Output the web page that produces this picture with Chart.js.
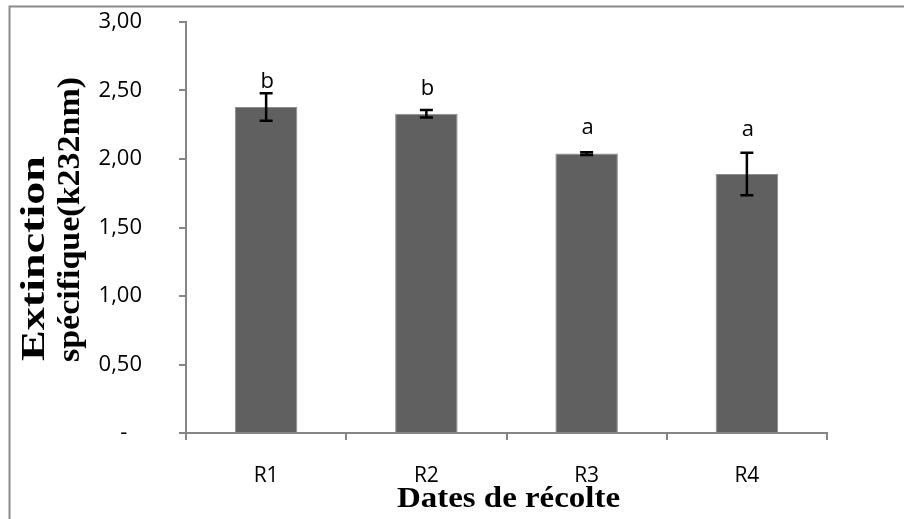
<!DOCTYPE html>
<html lang="fr">

<head>
    <meta charset="UTF-8">
    <title>Extinction spécifique</title>
    <script src="https://cdn.jsdelivr.net/npm/chart.js"></script>
    <style>
        body { margin: 0; background: #fff; }
    </style>
</head>

<body>
    <canvas id="myChart" width="904" height="519"></canvas>

    <script>
        // values
        const categories = ['R1', 'R2', 'R3', 'R4'];
        const values = [2.38, 2.33, 2.04, 1.89];
        const errors = [0.10, 0.027, 0.01, 0.155];
        const letters = ['b', 'b', 'a', 'a'];
        const letterAt = [2.52, 2.47, 2.18, 2.17];   // baseline of the letters, in axis units
        const yTickValues = [0, 0.5, 1, 1.5, 2, 2.5, 3];
        const yTickLabels = ['-\u2007\u200A', '0,50', '1,00', '1,50', '2,00', '2,50', '3,00'];
        const yTitle = ['Extinction', 'spécifique(k232nm)'];
        const xTitle = 'Dates de récolte';

        const axisGray = '#868686';

        // frame + titles
        const decor = {
            id: 'decor',
            beforeDraw(chart) {
                const ctx = chart.ctx;
                ctx.save();
                ctx.fillStyle = '#fff';
                ctx.fillRect(0, 0, chart.width, chart.height);
                ctx.strokeStyle = '#8a8a8a';
                ctx.lineWidth = 2;
                ctx.beginPath();
                ctx.moveTo(9.5, chart.height);
                ctx.lineTo(9.5, 6.5);
                ctx.lineTo(chart.width, 6.5);
                ctx.stroke();
                ctx.restore();
            },
            afterDraw(chart) {
                const ctx = chart.ctx;
                ctx.save();
                ctx.fillStyle = '#000';
                ctx.textBaseline = 'alphabetic';
                ctx.textAlign = 'left';
                // y title, two lines reading upward, stretched to the reference length
                // [baseline x, start y, length, font size]
                const lines = [[44, 361, 205, 33], [79, 362, 285, 31]];
                yTitle.forEach((t, i) => {
                    ctx.font = 'bold ' + lines[i][3] + 'px "Liberation Serif"';
                    const w = ctx.measureText(t).width;
                    ctx.save();
                    ctx.translate(lines[i][0], lines[i][1]);
                    ctx.rotate(-Math.PI / 2);
                    ctx.scale(lines[i][2] / w, 1);
                    ctx.fillText(t, 0, 0);
                    ctx.restore();
                });
                // x title
                ctx.font = 'bold 30px "Liberation Serif"';
                const w = ctx.measureText(xTitle).width;
                ctx.save();
                ctx.translate(397, 507);
                ctx.scale(223 / w, 1);
                ctx.fillText(xTitle, 0, 0);
                ctx.restore();
                ctx.restore();
            }
        };

        // error bars and significance letters
        const errorBars = {
            id: 'errorBars',
            afterDatasetsDraw(chart) {
                const ctx = chart.ctx;
                const y = chart.scales.y;
                const meta = chart.getDatasetMeta(0);
                ctx.save();
                ctx.strokeStyle = '#000';
                ctx.lineWidth = 2.5;
                meta.data.forEach((bar, i) => {
                    const x = bar.x;
                    const top = y.getPixelForValue(values[i] + errors[i]);
                    const bot = y.getPixelForValue(values[i] - errors[i]);
                    ctx.beginPath();
                    ctx.moveTo(x, top);
                    ctx.lineTo(x, bot);
                    ctx.moveTo(x - 6.5, top);
                    ctx.lineTo(x + 6.5, top);
                    ctx.moveTo(x - 6.5, bot);
                    ctx.lineTo(x + 6.5, bot);
                    ctx.stroke();
                });
                ctx.fillStyle = '#000';
                ctx.font = '22px "Open Sans"';
                ctx.textAlign = 'center';
                ctx.textBaseline = 'alphabetic';
                meta.data.forEach((bar, i) => {
                    ctx.fillText(letters[i], bar.x + 1, y.getPixelForValue(letterAt[i]));
                });
                ctx.restore();
            }
        };

        const data = {
            labels: categories,
            datasets: [{
                data: values,
                backgroundColor: '#606060',
                borderColor: '#8c8c8c',
                borderWidth: 1,
                barPercentage: 0.39,
                categoryPercentage: 1
            }]
        };

        const config = {
            type: 'bar',
            data: data,
            options: {
                responsive: false,
                animation: false,
                devicePixelRatio: 1,
                layout: { padding: { left: 0, top: 22, right: 77, bottom: 0 } },
                plugins: {
                    legend: { display: false },
                    tooltip: { enabled: false }
                },
                scales: {
                    x: {
                        afterFit(s) { s.height = 86; s.paddingLeft = 0; s.paddingRight = 0; },
                        grid: {
                            display: true,
                            drawOnChartArea: false,
                            drawTicks: true,
                            tickLength: 7,
                            color: axisGray,
                            lineWidth: 2
                        },
                        border: { display: true, color: axisGray, width: 2 },
                        ticks: {
                            color: '#000',
                            padding: 23,
                            font: { family: '"Open Sans"', size: 21 }
                        }
                    },
                    y: {
                        min: 0,
                        max: 3,
                        afterFit(s) { s.width = 186; s.paddingTop = 0; s.paddingBottom = 0; },
                        afterBuildTicks(s) { s.ticks = yTickValues.map(v => ({ value: v })); },
                        grid: {
                            display: true,
                            drawOnChartArea: false,
                            drawTicks: true,
                            tickLength: 7,
                            color: axisGray,
                            lineWidth: 2
                        },
                        border: { display: true, color: axisGray, width: 2 },
                        ticks: {
                            color: '#000',
                            padding: 37,
                            font: { family: '"Open Sans"', size: 22 },
                            callback: (v) => yTickLabels[yTickValues.indexOf(v)]
                        }
                    }
                }
            },
            plugins: [decor, errorBars]
        };

        const myChart = new Chart(document.getElementById('myChart'), config);
    </script>
</body>

</html>
